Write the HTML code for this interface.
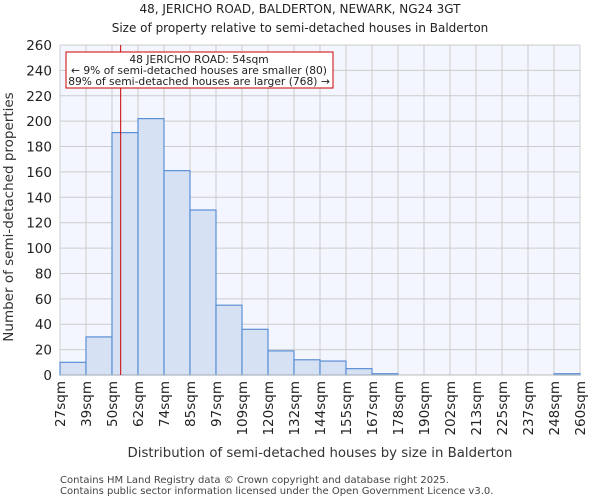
<!DOCTYPE html>
<html><head><meta charset="utf-8"><style>
body{margin:0;background:#fff;font-family:"DejaVu Sans","Liberation Sans",sans-serif}
</style></head><body>
<svg id="c" width="600" height="500" xmlns="http://www.w3.org/2000/svg" font-family="DejaVu Sans, Liberation Sans, sans-serif">
<text x="300" y="13" text-anchor="middle" font-size="12" fill="#222">48, JERICHO ROAD, BALDERTON, NEWARK, NG24 3GT</text>
<text x="300" y="32" text-anchor="middle" font-size="12" fill="#222">Size of property relative to semi-detached houses in Balderton</text>
<rect x="60" y="45" width="520" height="330" fill="#f3f6fe"/>
<g id="grid"></g><g id="bars"></g><g id="ticks"></g>
<line id="marker" y1="45" y2="375" stroke="#cc0000" stroke-width="1"/>
<rect x="66" y="52" width="267" height="36" fill="#fff" stroke="#cc0000"/>
<text x="199" y="63" text-anchor="middle" font-size="10.7" fill="#222">48 JERICHO ROAD: 54sqm</text>
<text x="199" y="74" text-anchor="middle" font-size="10.7" fill="#222">← 9% of semi-detached houses are smaller (80)</text>
<text x="199" y="85" text-anchor="middle" font-size="10.7" fill="#222">89% of semi-detached houses are larger (768) →</text>
<text transform="translate(13,217) rotate(-90)" text-anchor="middle" font-size="13.5" fill="#333">Number of semi-detached properties</text>
<text x="320" y="457" text-anchor="middle" font-size="13.3" fill="#333">Distribution of semi-detached houses by size in Balderton</text>
<text x="60" y="483" font-size="10" fill="#444">Contains HM Land Registry data © Crown copyright and database right 2025.</text>
<text x="60" y="494" font-size="10" fill="#444">Contains public sector information licensed under the Open Government Licence v3.0.</text>
</svg>
<script>
const edges=[27,39,50,62,74,85,97,109,120,132,144,155,167,178,190,202,213,225,237,248,260];
const counts=[10,30,191,202,161,130,55,36,19,12,11,5,1,0,0,0,0,0,0,1];
const yTicks=[0,20,40,60,80,100,120,140,160,180,200,220,240,260];
const marker=54;
const NS="http://www.w3.org/2000/svg";
const X0=60,W=520,Y0=375,H=330,YMAX=260;
const xi=i=>X0+W*i/counts.length;
const xv=v=>{for(let i=0;i<edges.length-1;i++){if(v<=edges[i+1])return xi(i)+(v-edges[i])/(edges[i+1]-edges[i])*(W/counts.length);}return X0+W;};
const y=v=>Y0-v/YMAX*H;
const mk=(p,t,a)=>{const e=document.createElementNS(NS,t);for(const k in a)e.setAttribute(k,a[k]);p.appendChild(e);return e;};
const g=document.getElementById('grid'),b=document.getElementById('bars'),tk=document.getElementById('ticks');
yTicks.forEach(v=>{
 const l=mk(g,'line',{x1:X0,x2:X0+W,y1:y(v),y2:y(v),stroke:'#cccccc'});
 
 
 const t=mk(tk,'text',{x:52,y:y(v)+5,'text-anchor':'end','font-size':13.5,fill:'#222'});
 t.textContent=v;
 
 
});
edges.forEach((e,i)=>{
 const l=mk(g,'line',{x1:xi(i),x2:xi(i),y1:45,y2:Y0,stroke:'#cccccc'});
 
 
 const t=mk(tk,'text',{transform:`translate(${xi(i)+5},381) rotate(-90)`,'text-anchor':'end','font-size':13.5,fill:'#222'});
 t.textContent=e+'sqm';
 
 
});
counts.forEach((c,i)=>{
 if(c<=0)return;
 const r=mk(b,'rect',{x:xi(i),y:y(c),width:W/counts.length,height:Y0-y(c),fill:'#d6e1f4',stroke:'#5b8fd6','stroke-width':1.2});
 
 
});
const m=document.getElementById('marker');m.setAttribute('x1',xv(marker));m.setAttribute('x2',xv(marker));
mk(tk,'line',{x1:X0,x2:X0+W,y1:Y0,y2:Y0,stroke:'#bbb'});
</script>
</body></html>
